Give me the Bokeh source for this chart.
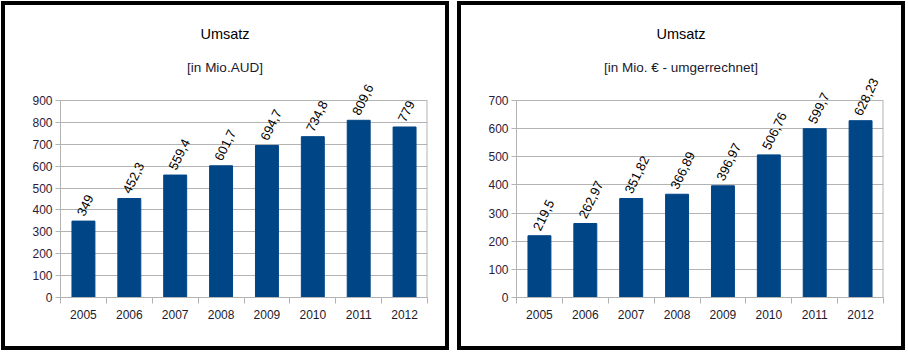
import numpy as np
from bokeh.plotting import figure
from bokeh.layouts import row
from bokeh.models import Range1d, FixedTicker, Label, LabelSet, ColumnDataSource
from bokeh.core.properties import value
from bokeh.embed import file_html
from bokeh.resources import INLINE

years = ["2005", "2006", "2007", "2008", "2009", "2010", "2011", "2012"]
umsatz_aud = [349, 452.3, 559.4, 601.7, 694.7, 734.8, 809.6, 779]
umsatz_eur = [219.5, 262.97, 351.82, 366.89, 396.97, 506.76, 599.7, 628.23]

title_main = "Umsatz"
sub_left = "[in Mio.AUD]"
sub_right = "[in Mio. € - umgerrechnet]"

FONT = "Liberation Sans"
BAR = "#004586"
GRID = "#b3b3b3"

# layout constants (pixels)
W, H = 448, 349          # host size incl. 4px border (border-box)
BORDER_CLIP = 8          # canvas part hidden behind the border
ML, MR, MB = 55, 18, 49  # margins around the value frame
PLOT_PX = 197            # pixel height of 0..ymax
TOP_PX = H - BORDER_CLIP - MB  # frame reaches canvas top
TITLE_PX = 264           # title centre above the zero line
SUB_PX = 230


def make_panel(values, subtitle, ymax):
    n = len(years)
    xs = np.arange(n) + 0.5
    labels = [f"{v:g}".replace(".", ",") for v in values]
    src = ColumnDataSource(dict(x=xs, top=values, lab=labels))
    per_px = ymax / PLOT_PX
    p = figure(width=W, height=H, output_backend="svg", toolbar_location=None,
               title=None,
               x_range=Range1d(0, n), y_range=Range1d(0, TOP_PX * per_px),
               min_border_left=ML, min_border_right=MR + BORDER_CLIP, min_border_top=0,
               min_border_bottom=MB + BORDER_CLIP)
    p.styles = {"border": "4px solid black"}
    p.outline_line_color = None

    p.xgrid.grid_line_color = None
    p.ygrid.grid_line_color = GRID
    p.ygrid.ticker = FixedTicker(ticks=list(range(0, ymax + 1, 100)))
    # right edge of the value frame
    p.segment(x0=[n], y0=[0], x1=[n], y1=[ymax], line_color=GRID, line_width=2)

    p.vbar(x="x", top="top", width=0.5, source=src, fill_color=BAR, line_color=BAR)
    p.add_layout(LabelSet(x="x", y="top", text="lab", source=src, angle=np.deg2rad(64),
                          text_align="left", text_baseline="middle",
                          text_font_size=value("13px"), text_font=value(FONT),
                          text_color=value("#000000"), y_offset=6, x_offset=-3))

    xa = p.xaxis[0]
    xa.ticker = FixedTicker(ticks=list(xs), minor_ticks=list(range(0, n + 1)))
    xa.major_label_overrides = {float(x): y for x, y in zip(xs, years)}
    xa.major_tick_line_color = None
    xa.minor_tick_line_color = GRID
    xa.minor_tick_out = 6
    xa.minor_tick_in = 0
    xa.axis_line_color = GRID
    xa.major_label_text_font = FONT
    xa.major_label_text_font_size = "12px"
    xa.major_label_text_color = "#1a1a2e"
    xa.major_label_standoff = 6

    ya = p.yaxis[0]
    ya.ticker = FixedTicker(ticks=list(range(0, ymax + 1, 100)))
    ya.bounds = (0, ymax)
    ya.minor_tick_line_color = None
    ya.major_tick_line_color = GRID
    ya.major_tick_out = 5
    ya.major_tick_in = 0
    ya.axis_line_color = GRID
    ya.major_label_text_font = FONT
    ya.major_label_text_font_size = "12px"
    ya.major_label_text_color = "#2e1a3a"
    ya.major_label_standoff = 3

    p.add_layout(Label(x=n / 2, y=TITLE_PX * per_px, text=title_main, x_offset=-19,
                       text_align="center", text_baseline="middle",
                       text_font=FONT, text_font_size="14.5px", text_color="#000000"))
    p.add_layout(Label(x=n / 2, y=SUB_PX * per_px, text=subtitle, x_offset=-19,
                       text_align="center", text_baseline="middle",
                       text_font=FONT, text_font_size="13.5px", text_color="#1a1a2e"))
    return p


p1 = make_panel(umsatz_aud, sub_left, 900)
p2 = make_panel(umsatz_eur, sub_right, 700)
p = row(p1, p2, spacing=8)
p.styles = {"margin-left": "1px", "margin-top": "1px"}

open("out.html", "w").write(file_html(p, INLINE))
